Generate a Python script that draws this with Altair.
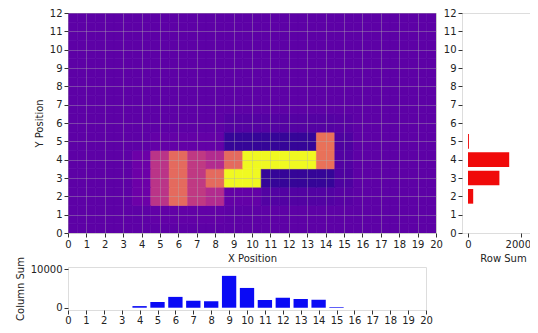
import altair as alt
import pandas as pd

# ---- data ----
x_cols = [0, 1, 2, 3, 4, 5, 6, 7, 8, 9, 10, 11, 12, 13, 14, 15, 16, 17, 18, 19, 20]
y_rows = [0, 1, 2, 3, 4, 5, 6, 7, 8, 9, 10, 11, 12]

# heat values, one list per y row (x = 0..20)
row_y0 = [0, 0, 0, 0, 0, 0, 0, 0, 0, 0, 0, 0, 0, 0, 0, 0, 0, 0, 0, 0, 0]
row_y1 = [0, 0, 0, 0, 0, 20, 20, 20, 20, 0, 0, 0, 0, 0, 0, 0, 0, 0, 0, 0, 0]
row_y2 = [0, 0, 0, 0, 80, 560, 950, 600, 500, 30, 30, -60, -60, -60, -60, -30, 0, 0, 0, 0, 0]
row_y3 = [0, 0, 0, 0, 80, 560, 950, 600, 950, 2000, 2000, -200, -200, -200, -200, -80, 0, 0, 0, 0, 0]
row_y4 = [0, 0, 0, 0, 80, 560, 950, 600, 500, 950, 2000, 2000, 2000, 2000, 1000, -60, 0, 0, 0, 0, 0]
row_y5 = [0, 0, 0, 0, 0, 30, 30, 30, 30, -200, -200, -200, -200, -200, 1000, -80, 0, 0, 0, 0, 0]
row_y6 = [0, 0, 0, 0, 0, 0, 0, 0, 0, -50, -50, -50, -50, -50, -50, -30, 0, 0, 0, 0, 0]
row_y7 = [0, 0, 0, 0, 0, 0, 0, 0, 0, 0, 0, 0, 0, 0, 0, 0, 0, 0, 0, 0, 0]
row_y8 = [0, 0, 0, 0, 0, 0, 0, 0, 0, 0, 0, 0, 0, 0, 0, 0, 0, 0, 0, 0, 0]
row_y9 = [0, 0, 0, 0, 0, 0, 0, 0, 0, 0, 0, 0, 0, 0, 0, 0, 0, 0, 0, 0, 0]
row_y10 = [0, 0, 0, 0, 0, 0, 0, 0, 0, 0, 0, 0, 0, 0, 0, 0, 0, 0, 0, 0, 0]
row_y11 = [0, 0, 0, 0, 0, 0, 0, 0, 0, 0, 0, 0, 0, 0, 0, 0, 0, 0, 0, 0, 0]
row_y12 = [0, 0, 0, 0, 0, 0, 0, 0, 0, 0, 0, 0, 0, 0, 0, 0, 0, 0, 0, 0, 0]
heat_rows = [row_y0, row_y1, row_y2, row_y3, row_y4, row_y5, row_y6,
             row_y7, row_y8, row_y9, row_y10, row_y11, row_y12]

# row sums (y = 0..12)
row_sums = [0, 0, 1960, 11850, 15550, 350, 0, 0, 0, 0, 0, 0, 0]
# column sums (x = 0..20)
col_sums = [0, 0, 0, 0, 420, 1500, 2830, 1830, 1670, 8330, 5170, 2000, 2590, 2250, 2080, 170, 0, 0, 0, 0, 0]

x_ticks = [0, 1, 2, 3, 4, 5, 6, 7, 8, 9, 10, 11, 12, 13, 14, 15, 16, 17, 18, 19, 20]
y_ticks = [0, 1, 2, 3, 4, 5, 6, 7, 8, 9, 10, 11, 12]

heat_df = pd.DataFrame([{"x": x, "y": y, "v": heat_rows[y][x]} for y in y_rows for x in x_cols])
rs_df = pd.DataFrame({"row": y_rows, "s": row_sums})
cs_df = pd.DataFrame({"col": x_cols, "s": col_sums})

FONT = "DejaVu Sans"
TXT = "#222222"

cscale = alt.Scale(scheme="plasma", domain=[-350, 1750], clamp=True)

def ax(values, title=None, grid=False, fmt="d", tpad=5, lpad=2):
    kw = dict(values=values, grid=grid, labelFlush=False, labelOverlap=False,
              format=fmt, tickSize=4, labelPadding=lpad, domain=False,
              tickColor="#333333", labelColor=TXT, titleColor=TXT,
              labelFont=FONT, titleFont=FONT, labelFontSize=10, titleFontSize=10,
              titleFontWeight="normal", titlePadding=tpad)
    kw["title"] = title
    if grid:
        kw.update(gridColor="#b0b0b0", gridOpacity=0.38, gridWidth=1, zindex=1)
    return alt.Axis(**kw)

heat = alt.Chart(heat_df).transform_calculate(
    xa="datum.x - 0.5", xb="datum.x + 0.5", ya="datum.y - 0.5", yb="datum.y + 0.5"
).mark_rect(clip=True, strokeWidth=0.6).encode(
    x=alt.X("xa:Q", scale=alt.Scale(domain=[0, 20], nice=False, zero=False),
            axis=ax(x_ticks, "X Position", grid=True, tpad=4)),
    x2="xb:Q",
    y=alt.Y("ya:Q", scale=alt.Scale(domain=[0, 12], nice=False, zero=False),
            axis=ax(y_ticks, "Y Position", grid=True)),
    y2="yb:Q",
    color=alt.Color("v:Q", scale=cscale, legend=None),
    stroke=alt.Stroke("v:Q", scale=cscale, legend=None),
).properties(width=368, height=220)

rowsum = alt.Chart(rs_df).transform_calculate(
    ya="datum.row - 0.4", yb="datum.row + 0.4"
).mark_rect(color="#f00a0a", clip=True).encode(
    x=alt.X("s:Q", scale=alt.Scale(domain=[-2264, 28679], nice=False, zero=False),
            axis=ax([0, 20000], "Row Sum", tpad=4)),
    x2=alt.datum(0),
    y=alt.Y("ya:Q", scale=alt.Scale(domain=[0, 12], nice=False, zero=False),
            axis=ax(y_ticks)),
    y2="yb:Q",
).properties(width=82, height=220)

colsum = alt.Chart(cs_df).transform_calculate(
    xa="datum.col - 0.4", xb="datum.col + 0.4"
).mark_rect(color="#0a0af5", clip=True).encode(
    x=alt.X("xa:Q", scale=alt.Scale(domain=[0, 20], nice=False, zero=False),
            axis=ax(x_ticks, lpad=1)),
    x2="xb:Q",
    y=alt.Y("s:Q", scale=alt.Scale(domain=[-600, 10650], nice=False, zero=False),
            axis=ax([0, 10000], "Column Sum")),
    y2=alt.datum(0),
).properties(width=358, height=43)

chart = alt.concat(
    heat, rowsum, colsum, columns=2, spacing={"row": 34, "column": 26}, bounds="flush"
).properties(
    autosize=alt.AutoSizeParams(type="none"),
    padding={"left": 60, "top": 5, "right": 462, "bottom": 311},
).configure_view(
    stroke="#333333", strokeWidth=1
).configure(background="white")

chart.save("out.html", embed_options={"renderer": "svg", "actions": False})
